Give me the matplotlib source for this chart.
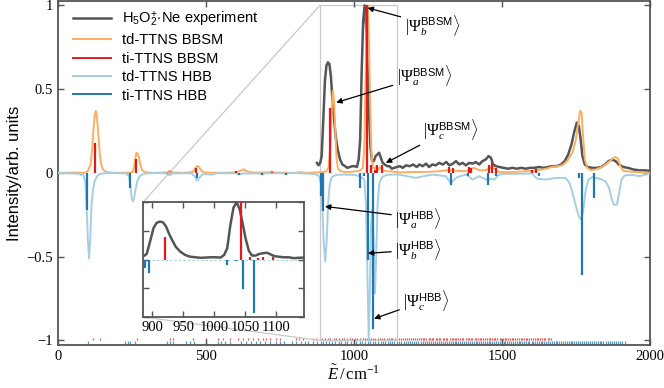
import numpy as np
import matplotlib
matplotlib.use('Agg')
import matplotlib.pyplot as plt
from mpl_toolkits.axes_grid1.inset_locator import mark_inset
from matplotlib.ticker import FuncFormatter

plt.rcParams['font.family'] = ['Liberation Sans', 'DejaVu Sans']
plt.rcParams['mathtext.fontset'] = 'custom'
plt.rcParams['mathtext.rm'] = 'Liberation Serif'
plt.rcParams['mathtext.it'] = 'Liberation Serif:italic'
plt.rcParams['mathtext.bf'] = 'Liberation Serif:bold'
plt.rcParams['mathtext.sf'] = 'Liberation Sans'

# ==================== data ====================
# experiment H5O2+ . Ne
exp_x = [875, 880, 886, 891, 896, 902, 907, 912, 917, 922, 927, 932, 938, 945, 953, 961,
         970, 978, 986, 994, 1002, 1010, 1016, 1021, 1026, 1031, 1036, 1041, 1046, 1051,
         1056, 1061, 1067, 1073, 1079, 1085, 1091, 1097, 1104, 1112, 1120, 1128, 1136,
         1145, 1155, 1165, 1176, 1188, 1200, 1212, 1221, 1232, 1244, 1254, 1265, 1276,
         1288, 1300, 1312, 1322, 1334, 1345, 1356, 1367, 1378, 1390, 1401, 1412, 1423,
         1434, 1445, 1455, 1463, 1470, 1480, 1492, 1505, 1520, 1535, 1550, 1565, 1580,
         1595, 1610, 1625, 1640, 1655, 1670, 1685, 1700, 1712, 1724, 1735, 1745, 1753,
         1760, 1766, 1772, 1780, 1790, 1805, 1820, 1835, 1848, 1860, 1872, 1884, 1895,
         1910, 1925, 1945, 1965, 1985, 2000]
exp_y = [0.06, 0.045, 0.06, 0.1, 0.3, 0.55, 0.64, 0.66, 0.65, 0.58, 0.45, 0.34, 0.22, 0.14,
         0.08, 0.05, 0.04, 0.03, 0.035, 0.04, 0.04, 0.035, 0.08, 0.2, 0.6, 0.9, 1.0, 0.88,
         0.62, 0.35, 0.15, 0.07, 0.07, 0.1, 0.11, 0.12, 0.09, 0.06, 0.05, 0.04, 0.04,
         0.025, 0.03, 0.035, 0.04, 0.03, 0.045, 0.04, 0.05, 0.035, 0.05, 0.04, 0.055,
         0.035, 0.05, 0.045, 0.06, 0.05, 0.065, 0.045, 0.055, 0.07, 0.05, 0.06, 0.045,
         0.06, 0.055, 0.065, 0.05, 0.07, 0.08, 0.1, 0.09, 0.05, 0.04, 0.035, 0.03, 0.025,
         0.03, 0.025, 0.03, 0.025, 0.03, 0.03, 0.035, 0.03, 0.035, 0.04, 0.04, 0.05, 0.07,
         0.11, 0.17, 0.25, 0.3, 0.28, 0.2, 0.1, 0.05, 0.035, 0.03, 0.03, 0.035, 0.05, 0.07,
         0.08, 0.07, 0.05, 0.035, 0.03, 0.02, 0.015, 0.015, 0.012]

# td-TTNS BBSM (broadened)
tdb_x = [0, 60, 80, 95, 102, 110, 116, 120, 124, 128, 132, 136, 141, 146, 152, 160, 175,
         200, 240, 252, 257, 261, 265, 269, 274, 279, 285, 295, 320, 370, 378, 386, 420,
         455, 463, 470, 477, 485, 495, 560, 600, 620, 628, 636, 660, 715, 722, 730, 800,
         820, 840, 880, 905, 914, 920, 925, 929, 933, 937, 941, 946, 955, 970, 990, 1010,
         1022, 1030, 1035, 1039, 1043, 1047, 1051, 1055, 1059, 1064, 1070, 1077, 1083,
         1090, 1097, 1110, 1130, 1153, 1200, 1250, 1290, 1322, 1350, 1378, 1395, 1406,
         1425, 1446, 1460, 1468, 1478, 1490, 1520, 1547, 1580, 1605, 1625, 1650, 1670,
         1690, 1704, 1720, 1738, 1750, 1758, 1764, 1769, 1774, 1780, 1788, 1799, 1815,
         1827, 1842, 1855, 1870, 1882, 1892, 1900, 1910, 1940, 1970, 2000]
tdb_y = [0, 0.002, 0.0, 0.003, 0.015, 0.05, 0.15, 0.26, 0.34, 0.37, 0.33, 0.24, 0.12, 0.05,
         0.02, 0.008, 0.002, 0, 0.001, 0.005, 0.03, 0.08, 0.12, 0.115, 0.09, 0.045, 0.015,
         0.004, 0, 0.003, 0.012, 0.003, 0, 0.005, 0.025, 0.042, 0.035, 0.012, 0.002, 0.0,
         0.003, 0.015, 0.022, 0.01, 0.002, 0.003, 0.009, 0.002, 0.0, 0.005, 0.0, 0.003,
         0.008, 0.03, 0.15, 0.38, 0.49, 0.42, 0.25, 0.09, 0.025, 0.01, 0.005, 0.006, 0.01,
         0.015, 0.03, 0.15, 0.55, 0.95, 1.0, 0.78, 0.4, 0.12, 0.03, 0.025, 0.04, 0.02, 0.035,
         0.015, 0.01, 0.008, 0.003, 0.005, 0.006, 0.01, 0.017, 0.012, 0.01, 0.025, 0.03,
         0.015, 0.017, 0.03, 0.036, 0.02, 0.005, 0.004, 0.006, 0.01, 0.012, 0.017, 0.025,
         0.036, 0.04, 0.046, 0.07, 0.12, 0.2, 0.3, 0.37, 0.36, 0.22, 0.08, 0.03, 0.017,
         0.02, 0.027, 0.04, 0.057, 0.08, 0.095, 0.085, 0.04, 0.012, 0.006, 0.003, 0.0]

# td-TTNS HBB (broadened, drawn negative)
tdh_x = [0, 40, 70, 77, 85, 92, 97, 101, 105, 109, 113, 118, 124, 132, 142, 170, 230, 240,
         245, 249, 253, 257, 262, 268, 276, 290, 330, 370, 378, 386, 450, 462, 470, 478,
         488, 520, 535, 600, 612, 622, 680, 690, 700, 760, 770, 780, 840, 870, 882, 888,
         893, 898, 903, 908, 913, 918, 925, 940, 970, 1000, 1020, 1035, 1041, 1046, 1050,
         1054, 1058, 1062, 1066, 1071, 1075, 1080, 1086, 1095, 1110, 1130, 1153, 1180,
         1209, 1235, 1266, 1290, 1311, 1320, 1328, 1338, 1350, 1378, 1390, 1401, 1412,
         1423, 1440, 1451, 1462, 1474, 1490, 1510, 1535, 1570, 1603, 1610, 1620, 1648,
         1682, 1715, 1728, 1740, 1750, 1760, 1768, 1775, 1783, 1792, 1805, 1830, 1850,
         1862, 1870, 1878, 1888, 1896, 1904, 1915, 1940, 1965, 1985, 2000]
tdh_y = [0, -0.003, -0.005, -0.012, -0.005, -0.05, -0.2, -0.4, -0.51, -0.4, -0.2, -0.1,
         -0.05, -0.02, -0.005, 0, -0.003, -0.02, -0.08, -0.15, -0.17, -0.15, -0.1, -0.05,
         -0.02, -0.005, 0, -0.003, -0.015, -0.003, -0.002, -0.02, -0.047, -0.03, -0.008,
         -0.01, -0.002, -0.002, -0.008, -0.004, -0.003, -0.01, -0.002, -0.002, -0.008, 0,
         -0.004, -0.008, -0.02, -0.06, -0.2, -0.42, -0.53, -0.4, -0.18, -0.07, -0.025,
         -0.012, -0.01, -0.012, -0.02, -0.04, -0.2, -0.65, -1.0, -0.7, -0.3, -0.22, -0.4,
         -0.72, -0.5, -0.18, -0.06, -0.025, -0.012, -0.01, -0.01, -0.02, -0.03, -0.02,
         -0.01, -0.015, -0.02, -0.045, -0.06, -0.04, -0.025, -0.01, -0.025, -0.04, -0.03,
         -0.02, -0.035, -0.044, -0.035, -0.04, -0.01, -0.006, -0.006, -0.005, -0.004,
         -0.02, -0.035, -0.04, -0.03, -0.03, -0.06, -0.13, -0.2, -0.26, -0.28, -0.22, -0.1,
         -0.04, -0.025, -0.035, -0.05, -0.09, -0.15, -0.19, -0.19, -0.12, -0.04, -0.015,
         -0.012, -0.02, -0.01, -0.005]

# ti-TTNS sticks
tib_x = [125, 262, 378, 465, 600, 722, 920, 1043, 1058, 1071, 1078, 1095, 1322, 1333, 1390,
         1395, 1457, 1468, 1481, 1603, 1616]
tib_y = [0.18, 0.085, 0.01, 0.03, 0.012, 0.006, 0.39, 1.0, 0.05, 0.02, 0.05, 0.05, 0.037,
         0.03, 0.037, 0.03, 0.046, 0.06, 0.03, 0.017, 0.025]
tih_x = [99, 242, 372, 470, 612, 690, 770, 888, 895, 1020, 1035, 1047, 1064, 1328, 1385,
         1454, 1479, 1625, 1760, 1770, 1810]
tih_y = [-0.22, -0.09, -0.01, -0.03, -0.015, -0.015, -0.01, -0.14, -0.23, -0.09, -0.02,
         -0.52, -0.93, -0.07, -0.02, -0.07, -0.02, -0.02, -0.03, -0.61, -0.15]

# eigenstate positions (rug at the bottom)
rug_bbsm = [119, 142, 267, 380, 388, 456, 501, 541, 557, 580, 608, 625, 642, 659, 676, 693,
            704, 715, 738, 749, 805, 816, 828, 861, 872, 884, 892, 901, 912, 920, 931, 939,
            948, 958, 966, 975, 986, 993, 1003, 1011, 1020, 1029, 1036, 1043, 1050, 1059,
            1065, 1071, 1080, 1087, 1096, 1102, 1111, 1117, 1125, 1130, 1139, 1147, 1152,
            1160, 1166, 1174, 1179, 1187, 1193, 1199, 1207, 1212, 1220, 1225, 1233, 1238,
            1244, 1252, 1256, 1264, 1268, 1276, 1280, 1288, 1292, 1300, 1304, 1312, 1316,
            1323, 1330, 1334, 1342, 1346, 1353, 1358, 1366, 1370, 1377, 1384, 1388, 1396,
            1400, 1408, 1412, 1419, 1426, 1430, 1437, 1444, 1448, 1455, 1461, 1466, 1474,
            1478, 1485, 1492, 1496, 1503, 1510, 1514, 1521, 1526, 1534, 1538, 1545, 1551,
            1556, 1563, 1569, 1574, 1581, 1586, 1593, 1599, 1604, 1611, 1617, 1622, 1629,
            1635, 1641, 1647, 1654, 1659, 1665]
rug_hbb = [102, 226, 235, 243, 260, 367, 378, 389, 434, 446, 458, 501, 540, 552, 566, 580,
           620, 636, 652, 668, 684, 700, 716, 735, 750, 762, 790, 805, 820, 834, 846, 860,
           875, 888, 897, 905, 916, 927, 936, 948, 957, 969, 978, 990, 999, 1008, 1019,
           1027, 1036, 1047, 1055, 1064, 1072, 1081, 1090, 1097, 1106, 1114, 1121, 1130,
           1137, 1145, 1153, 1160, 1168, 1175, 1182, 1190, 1197, 1204, 1211, 1218, 1226,
           1232, 1239, 1247, 1253, 1260, 1267, 1273, 1281, 1287, 1294, 1300, 1307, 1314,
           1320, 1327, 1333, 1340, 1346, 1353, 1359, 1366, 1372, 1379, 1385, 1391, 1398,
           1404, 1411, 1417, 1423, 1430, 1436, 1442, 1449, 1455, 1461, 1468, 1474, 1480,
           1487, 1493, 1499, 1506, 1512, 1518, 1525, 1531, 1537, 1543, 1550, 1556, 1562,
           1568, 1575, 1581, 1587, 1593, 1600, 1606, 1612, 1618, 1625, 1631, 1637, 1643,
           1650, 1656, 1662, 1668, 1675, 1681, 1687, 1694, 1700, 1706, 1713, 1719, 1726,
           1732, 1738, 1745, 1751, 1758, 1764, 1771, 1777, 1784, 1790, 1797, 1803, 1810,
           1817, 1823, 1830, 1836, 1843, 1850, 1857, 1864, 1871, 1878, 1885, 1892, 1900,
           1907, 1916]

# annotations: label, text position, arrow target
labels = [r'$|\Psi_b^{\mathsf{BBSM}}\rangle$', r'$|\Psi_a^{\mathsf{BBSM}}\rangle$',
          r'$|\Psi_c^{\mathsf{BBSM}}\rangle$', r'$|\Psi_a^{\mathsf{HBB}}\rangle$',
          r'$|\Psi_b^{\mathsf{HBB}}\rangle$', r'$|\Psi_c^{\mathsf{HBB}}\rangle$']
label_xy = [(1172, 0.88), (1145, 0.58), (1232, 0.26), (1140, -0.27), (1140, -0.46), (1167, -0.76)]
target_xy = [(1046, 0.985), (940, 0.42), (1108, 0.06), (902, -0.2), (1047, -0.48), (1068, -0.87)]

c_exp = '#555555'
c_tdb = '#fdae61'
c_tib = '#e31a1c'
c_tdh = '#a6cee3'
c_tih = '#1f78b4'

# ==================== plot ====================
fig = plt.figure(figsize=(6.64, 3.88), dpi=100)
ax = fig.add_axes([0.0873, 0.111, 0.8915, 0.886])

ax.vlines(rug_bbsm, -0.998, -0.985, color=c_tib, lw=0.9, alpha=0.75, zorder=1)
ax.vlines(rug_hbb, -1.024, -1.004, color=c_tih, lw=0.9, alpha=0.75, zorder=1)

ax.plot(exp_x, exp_y, color=c_exp, lw=1.8,
        label=r'H$_{\mathsf{5}}$O$_{\mathsf{2}}^{\mathsf{+}}\!\cdot\!$Ne experiment', zorder=3)
ax.plot(tdb_x, tdb_y, color=c_tdb, lw=1.4, label='td-TTNS BBSM', zorder=4)
ax.vlines(tib_x, 0, tib_y, color=c_tib, lw=1.6, zorder=5)
ax.plot([], [], color=c_tib, lw=1.4, label='ti-TTNS BBSM')
ax.plot(tdh_x, tdh_y, color=c_tdh, lw=1.4, label='td-TTNS HBB', zorder=4)
ax.vlines(tih_x, 0, tih_y, color=c_tih, lw=1.6, zorder=5)
ax.plot([], [], color=c_tih, lw=1.4, label='ti-TTNS HBB')

ax.set_xlim(0, 2000)
ax.set_ylim(-1.027, 1.025)
ax.set_xticks([0, 500, 1000, 1500, 2000])
ax.set_yticks([-1, -0.5, 0, 0.5, 1])
fmt = FuncFormatter(lambda v, p: ('%g' % v).replace('-', '\u2212'))
ax.xaxis.set_major_formatter(fmt)
ax.yaxis.set_major_formatter(fmt)
ax.tick_params(direction='in', top=True, right=True, length=4, width=1, color='#555555',
               labelsize=10.5)
for lab in ax.get_xticklabels() + ax.get_yticklabels():
    lab.set_fontfamily('Liberation Serif')
for s in ax.spines.values():
    s.set_color('#555555')
    s.set_linewidth(1.3)

ax.set_xlabel(r'$\tilde{E}\,/\,\mathrm{cm}^{-1}$', fontsize=12, labelpad=1)
ax.set_ylabel('Intensity/arb. units', fontsize=12, labelpad=3)

ax.legend(loc='upper left', frameon=False, fontsize=10.5, handlelength=2.6,
          labelspacing=0.3, borderaxespad=0.2, bbox_to_anchor=(0.01, 1.0))

for lab, txy, pxy in zip(labels, label_xy, target_xy):
    ax.annotate(lab, xy=pxy, xytext=txy, ha='left', va='center', fontsize=11.5,
                arrowprops=dict(arrowstyle='-|>', color='black', lw=0.9,
                                mutation_scale=8, shrinkA=1, shrinkB=0), zorder=6)

# ==================== inset ====================
axins = fig.add_axes([0.2154, 0.183, 0.2425, 0.296])
axins.axhline(0, color=c_tdh, lw=0.8, ls=(0, (2, 2)), zorder=1)
axins.plot(exp_x, exp_y, color=c_exp, lw=1.8, zorder=3)
axins.vlines(tib_x, 0, tib_y, color=c_tib, lw=1.6, zorder=4)
axins.vlines(tih_x, 0, tih_y, color=c_tih, lw=1.6, zorder=4)
axins.set_xlim(885, 1145)
axins.set_ylim(-1, 1)
axins.set_xticks([900, 950, 1000, 1050, 1100])
axins.set_yticks([-1, -0.5, 0, 0.5, 1])
axins.set_yticklabels([])
axins.tick_params(direction='in', top=True, right=True, length=4, width=1, color='#555555',
                  labelsize=10.5, pad=3)
for lab in axins.get_xticklabels():
    lab.set_fontfamily('Liberation Serif')
for s in axins.spines.values():
    s.set_color('#555555')
    s.set_linewidth(1.3)

mark_inset(ax, axins, loc1=2, loc2=3, fc='none', ec='#c8c8c8', lw=0.9)

plt.savefig('out.png', dpi=100)
